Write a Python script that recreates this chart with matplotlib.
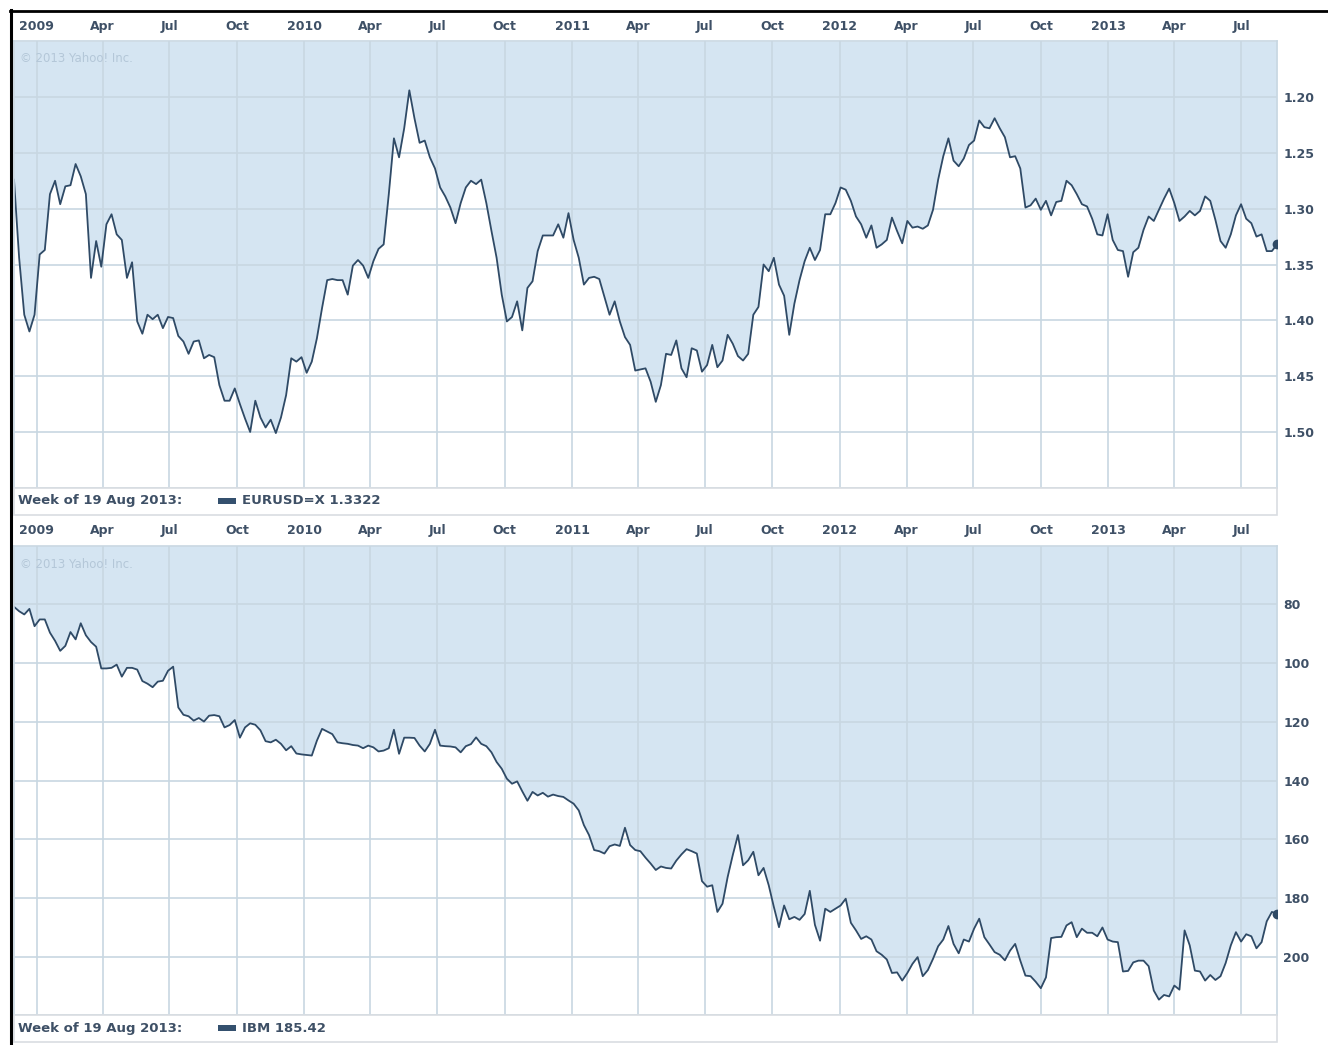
import numpy as np
import pandas as pd
import matplotlib
matplotlib.use("Agg")
import matplotlib.pyplot as plt
from matplotlib.patches import Rectangle
from matplotlib.lines import Line2D

# weekly closes, 1 Dec 2008 .. 19 Aug 2013
weeks = pd.date_range("2008-12-01", periods=247, freq="7D")

eurusd = [
    1.274, 1.344, 1.395, 1.410, 1.395, 1.341, 1.337, 1.287, 1.275, 1.296,
    1.280, 1.279, 1.260, 1.271, 1.287, 1.362, 1.329, 1.352, 1.314, 1.305,
    1.323, 1.328, 1.362, 1.348, 1.401, 1.412, 1.395, 1.399, 1.395, 1.407,
    1.397, 1.398, 1.414, 1.419, 1.430, 1.419, 1.418, 1.434, 1.431, 1.433,
    1.458, 1.472, 1.472, 1.461, 1.475, 1.488, 1.500, 1.472, 1.487, 1.496,
    1.489, 1.501, 1.487, 1.467, 1.434, 1.437, 1.433, 1.447, 1.437, 1.416,
    1.389, 1.364, 1.363, 1.364, 1.364, 1.377, 1.351, 1.346, 1.351, 1.362,
    1.347, 1.336, 1.332, 1.287, 1.237, 1.254, 1.228, 1.194, 1.219, 1.241,
    1.239, 1.254, 1.264, 1.281, 1.289, 1.299, 1.313, 1.295, 1.281, 1.275,
    1.278, 1.274, 1.295, 1.320, 1.344, 1.377, 1.401, 1.397, 1.383, 1.409,
    1.371, 1.365, 1.338, 1.324, 1.324, 1.324, 1.314, 1.326, 1.304, 1.328,
    1.344, 1.368, 1.362, 1.361, 1.363, 1.379, 1.395, 1.383, 1.401, 1.415,
    1.422, 1.445, 1.444, 1.443, 1.455, 1.473, 1.458, 1.430, 1.431, 1.418,
    1.443, 1.451, 1.425, 1.427, 1.446, 1.440, 1.422, 1.442, 1.436, 1.413,
    1.421, 1.432, 1.436, 1.430, 1.395, 1.388, 1.350, 1.356, 1.344, 1.368,
    1.378, 1.413, 1.385, 1.364, 1.347, 1.335, 1.346, 1.337, 1.305, 1.305,
    1.295, 1.281, 1.283, 1.293, 1.307, 1.314, 1.326, 1.315, 1.335, 1.332,
    1.328, 1.308, 1.320, 1.331, 1.311, 1.317, 1.316, 1.318, 1.315, 1.301,
    1.274, 1.253, 1.237, 1.257, 1.262, 1.255, 1.243, 1.239, 1.221, 1.227,
    1.228, 1.219, 1.228, 1.236, 1.254, 1.253, 1.264, 1.299, 1.297, 1.291,
    1.301, 1.293, 1.306, 1.294, 1.293, 1.275, 1.279, 1.287, 1.296, 1.298,
    1.309, 1.323, 1.324, 1.305, 1.328, 1.337, 1.338, 1.361, 1.339, 1.335,
    1.319, 1.307, 1.311, 1.301, 1.291, 1.282, 1.295, 1.311, 1.307, 1.302,
    1.306, 1.302, 1.289, 1.293, 1.310, 1.329, 1.335, 1.323, 1.306, 1.296,
    1.309, 1.313, 1.325, 1.323, 1.338, 1.338, 1.332,
]

ibm = [
    80.8, 82.3, 83.4, 81.5, 87.4, 85.1, 85.1, 89.6, 92.4, 95.8,
    94.1, 89.4, 91.9, 86.4, 90.5, 92.8, 94.4, 101.8, 101.8, 101.6,
    100.5, 104.6, 101.6, 101.6, 102.2, 106.1, 107.0, 108.2, 106.3, 106.0,
    102.6, 101.2, 115.1, 117.6, 118.1, 119.6, 118.7, 119.9, 117.9, 117.7,
    118.1, 121.9, 121.1, 119.4, 125.4, 121.9, 120.5, 121.0, 122.9, 126.6,
    127.0, 126.1, 127.5, 129.7, 128.3, 130.8, 131.1, 131.3, 131.5, 126.4,
    122.4, 123.3, 124.2, 127.0, 127.3, 127.5, 127.9, 128.1, 129.0, 128.1,
    128.7, 130.1, 129.8, 129.0, 122.7, 130.9, 125.4, 125.4, 125.5, 128.1,
    130.1, 127.5, 122.7, 128.1, 128.3, 128.4, 128.7, 130.4, 128.3, 127.6,
    125.3, 127.5, 128.3, 130.4, 133.7, 136.0, 139.4, 141.1, 140.3, 143.7,
    146.9, 143.9, 145.1, 144.2, 145.5, 144.8, 145.3, 145.6, 146.8, 147.9,
    150.2, 155.2, 158.6, 163.7, 164.1, 164.9, 162.4, 161.8, 162.3, 156.1,
    162.0, 163.7, 164.1, 166.3, 168.3, 170.5, 169.3, 169.8, 170.0, 167.3,
    165.2, 163.4, 164.1, 164.9, 174.3, 176.2, 175.7, 184.8, 182.0, 172.9,
    165.4, 158.6, 168.9, 167.2, 164.3, 172.3, 169.8, 175.7, 183.1, 190.0,
    182.6, 187.3, 186.5, 187.5, 185.5, 177.6, 189.2, 194.6, 183.7, 184.8,
    183.7, 182.6, 180.3, 188.5, 191.1, 194.0, 193.1, 194.2, 198.2, 199.4,
    201.0, 205.6, 205.4, 208.2, 205.6, 202.5, 200.2, 206.7, 204.6, 200.8,
    196.5, 194.2, 189.6, 195.7, 198.9, 194.2, 194.9, 190.5, 187.1, 193.4,
    195.9, 198.5, 199.4, 201.3, 198.0, 195.7, 201.4, 206.5, 206.7, 208.6,
    210.8, 207.1, 193.7, 193.4, 193.3, 189.4, 188.3, 193.4, 190.5, 191.9,
    191.9, 193.1, 190.1, 194.2, 194.9, 195.1, 205.1, 204.9, 202.0, 201.4,
    201.4, 203.3, 211.6, 214.7, 213.1, 213.6, 209.9, 211.3, 191.1, 196.2,
    204.8, 205.1, 208.2, 206.3, 208.0, 206.7, 202.2, 196.2, 191.7, 194.9,
    192.4, 193.1, 197.2, 195.1, 188.0, 184.8, 185.4,
]

quarters = pd.date_range("2009-01-01", "2013-07-01", freq="QS")
quarter_labels = [str(d.year) if d.month == 1 else d.strftime("%b") for d in quarters]

eur_ticks = [1.20, 1.25, 1.30, 1.35, 1.40, 1.45, 1.50]
eur_range = (1.15, 1.55)
ibm_ticks = [80, 100, 120, 140, 160, 180, 200]
ibm_range = (60, 220)

legend_date = "Week of 19 Aug 2013:"
eur_legend = "EURUSD=X 1.3322"
ibm_legend = "IBM 185.42"

W, H = 1328, 1045
line_col = "#2f4a66"
fill_col = "#d5e5f2"
grid_col = "#c8d7e2"
text_col = "#3e5066"

fig = plt.figure(figsize=(W / 100, H / 100), dpi=100)
fig.patch.set_facecolor("white")


def fx(px):
    return px / W


def fy(py):
    return 1 - py / H


def panel(top, bottom, values, ticks, ylim, fmt, legend):
    ax = fig.add_axes([fx(14), fy(bottom), fx(1277) - fx(14), fy(top) - fy(bottom)])
    ax.fill_between(weeks, values, ylim[0], color=fill_col, lw=0, zorder=0.3)
    ax.plot(weeks, values, color=line_col, lw=1.3, zorder=2)
    ax.plot(weeks[-1:], values[-1:], "o", color=line_col, ms=6, zorder=3)
    ax.set_xlim(weeks[0], weeks[-1])
    ax.set_ylim(ylim[1], ylim[0])
    ax.set_xticks(quarters)
    ax.set_xticklabels(quarter_labels)
    ax.set_yticks(ticks)
    ax.set_yticklabels([fmt.format(t) for t in ticks])
    ax.xaxis.tick_top()
    ax.yaxis.tick_right()
    ax.tick_params(axis="both", length=0, colors=text_col, labelsize=9)
    ax.tick_params(axis="x", pad=6)
    ax.tick_params(axis="y", pad=4.5)
    for lab in ax.get_xticklabels() + ax.get_yticklabels():
        lab.set_fontweight("bold")
    ax.grid(True, color=grid_col, lw=1.2)
    ax.set_axisbelow(True)
    for s in ax.spines.values():
        s.set_color(grid_col)
        s.set_linewidth(1.2)
    ax.text(0.005, 0.975, "\u00a9 2013 Yahoo! Inc.", transform=ax.transAxes,
            color="#b4c7d8", fontsize=8.5, va="top", ha="left")

    # legend strip under the plot
    fig.add_artist(Rectangle((fx(14), fy(bottom + 27)), fx(1277) - fx(14), 27 / H,
                             facecolor="white", edgecolor="#d9dde2", lw=1.2))
    ymid = fy(bottom + 13)
    fig.text(fx(18), ymid, legend_date, color=text_col, fontsize=9.5,
             fontweight="bold", va="center", ha="left")
    fig.add_artist(Rectangle((fx(218), ymid - 3 / H), 18 / W, 6 / H,
                             facecolor="#34506e", edgecolor="none"))
    fig.text(fx(242), ymid, legend, color=text_col, fontsize=9.5,
             fontweight="bold", va="center", ha="left")
    return ax


panel(41.2, 487.8, eurusd, eur_ticks, eur_range, "{:.2f}", eur_legend)
panel(545.8, 1015.2, ibm, ibm_ticks, ibm_range, "{:.0f}", ibm_legend)

# dark frame at top and left
fig.add_artist(Line2D([fx(10), 1], [fy(11), fy(11)], color="black", lw=2))
fig.add_artist(Line2D([fx(11), fx(11)], [fy(10), 0], color="black", lw=2.2))

fig.savefig("out.png", dpi=100)
